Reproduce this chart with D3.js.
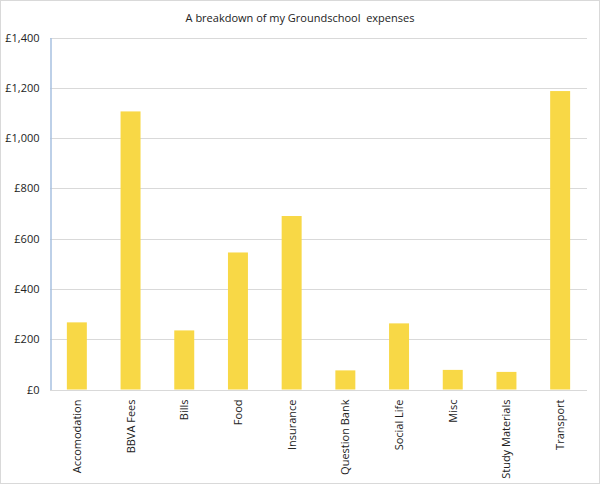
<!DOCTYPE html>
<html>
<head>
<meta charset="utf-8">
<script src="https://cdn.jsdelivr.net/npm/d3@7"></script>
<style>
  body { margin: 0; background: #fff; }
  text { font-family: "Open Sans", "Liberation Sans", sans-serif; fill: #222; }
</style>
</head>
<body>
<svg id="chart"></svg>
<script>
'use strict';
var categories = ['Accomodation', 'BBVA Fees', 'Bills', 'Food', 'Insurance',
                  'Question Bank', 'Social Life', 'Misc', 'Study Materials', 'Transport'];
var expenses = [267, 1106, 235, 545, 690, 76, 263, 78, 70, 1187];
var yTicks = [0, 200, 400, 600, 800, 1000, 1200, 1400];

var width = 600, height = 485;
var margin = {top: 37.5, right: 13, bottom: 95.5, left: 50};

var svg = d3.select('#chart').attr('width', width).attr('height', height);

// outer frame
svg.append('rect')
    .attr('x', 0.5).attr('y', 0.5)
    .attr('width', width - 1).attr('height', height - 2)
    .attr('fill', '#fff').attr('stroke', '#d9d9d9');

var x = d3.scaleBand()
    .domain(categories)
    .range([margin.left, width - margin.right])
    .paddingInner(0.628).paddingOuter(0.314);

var y = d3.scaleLinear()
    .domain([0, 1400])
    .range([height - margin.bottom, margin.top]);

// gridlines
svg.append('g').selectAll('line')
    .data(yTicks.slice(1))
    .enter()
    .append('line')
    .attr('x1', margin.left).attr('x2', width - margin.right)
    .attr('y1', function(d){ return Math.round(y(d)) + 0.5; })
    .attr('y2', function(d){ return Math.round(y(d)) + 0.5; })
    .attr('stroke', '#d9d9d9').attr('stroke-width', 1);

// bars
svg.append('g').selectAll('rect')
    .data(expenses)
    .enter()
    .append('rect')
    .attr('x', function(d, i){ return x(categories[i]); })
    .attr('width', x.bandwidth())
    .attr('y', function(d){ return y(d); })
    .attr('height', function(d){ return y(0) - y(d); })
    .attr('fill', '#f8d846');

// x axis baseline
svg.append('line')
    .attr('x1', margin.left).attr('x2', width - margin.right)
    .attr('y1', Math.round(y(0)) + 0.5).attr('y2', Math.round(y(0)) + 0.5)
    .attr('stroke', '#d9d9d9');

// y axis
var yAxis = svg.append('g')
    .attr('transform', 'translate(' + (margin.left + 0.5) + ',0)')
    .call(d3.axisLeft(y).tickValues(yTicks).tickSize(0).tickPadding(11)
        .tickFormat(function(d){ return '£' + d3.format(',')(d); }));
yAxis.select('.domain').attr('stroke', '#a7c1e1').attr('stroke-width', 1.5);
yAxis.selectAll('text').attr('font-size', 11).attr('fill', '#222')
    .style('font-family', '"Open Sans", "Liberation Sans", sans-serif');

// x labels
svg.append('g').selectAll('text')
    .data(categories)
    .enter()
    .append('text')
    .text(function(d){ return d; })
    .attr('transform', function(d){
        return 'translate(' + (x(d) + x.bandwidth() / 2 + 4) + ',' + (y(0) + 10) + ') rotate(-90)';
    })
    .attr('text-anchor', 'end')
    .attr('font-size', 11);

// title
svg.append('text')
    .attr('x', width / 2).attr('y', 22)
    .attr('text-anchor', 'middle')
    .attr('font-size', 11)
    .text('A breakdown of my Groundschool  expenses')
    .style('white-space', 'pre');
</script>
</body>
</html>
